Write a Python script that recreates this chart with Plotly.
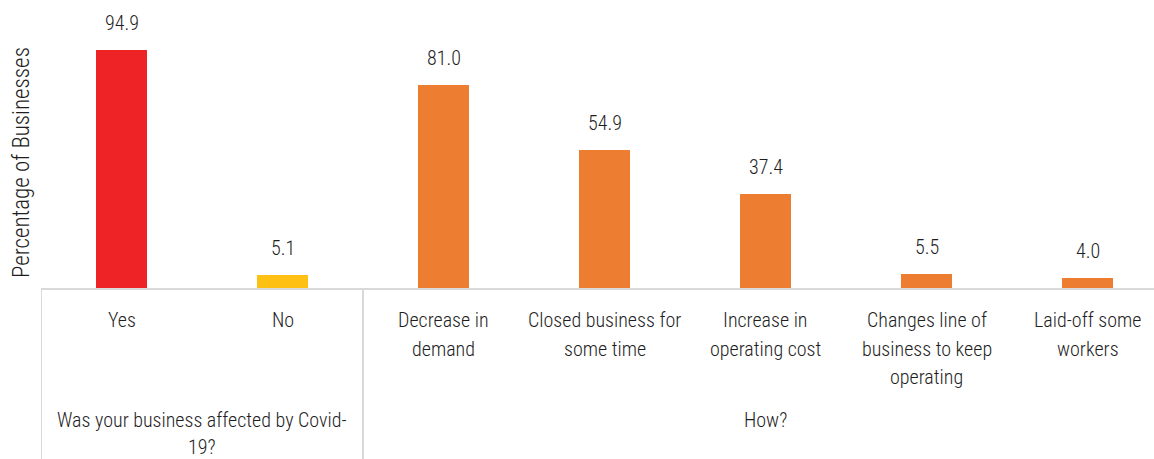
import plotly.graph_objects as go

# Survey results: share of businesses (%)
categories = ["Yes", "No", "Decrease in<br>demand", "Closed business for<br>some time",
              "Increase in<br>operating cost", "Changes line of<br>business to keep<br>operating",
              "Laid-off some<br>workers"]
values = [94.9, 5.1, 81.0, 54.9, 37.4, 5.5, 4.0]
value_labels = ["94.9", "5.1", "81.0", "54.9", "37.4", "5.5", "4.0"]
bar_colors = ["#EE2326", "#FFC014", "#ED7D31", "#ED7D31", "#ED7D31", "#ED7D31", "#ED7D31"]

groups = ["Was your business affected by Covid-<br>19?", "How?"]
group_spans = [(0, 1), (2, 6)]
y_title = "Percentage of Businesses"

FONT = "Roboto Condensed, Liberation Sans Narrow, DejaVu Sans Condensed, sans-serif"
TXT = "#1e1e1e"
GRID = "#d9d9d9"
LINE_H = 28.5   # spacing between wrapped category label lines, px
GROUP_LINE_H = 26.5

x = list(range(len(categories)))

fig = go.Figure()
fig.add_trace(go.Bar(
    x=x, y=values, marker=dict(color=bar_colors, line=dict(width=0)),
    width=0.317, hoverinfo="skip",
))

def label_font(size=20):
    return dict(family=FONT, size=size, color=TXT, weight=300)

# value labels above the bars
for i, (v, t) in enumerate(zip(values, value_labels)):
    fig.add_annotation(x=i, y=v, xref="x", yref="y", text=t, showarrow=False,
                       yanchor="middle", yshift=27, font=label_font())

# category labels under the axis, one annotation per line
for i, lab in enumerate(categories):
    for k, line in enumerate(lab.split("<br>")):
        fig.add_annotation(x=i, y=0, xref="x", yref="y", text=line, showarrow=False,
                           yanchor="middle", yshift=-32 - k * LINE_H,
                           font=label_font())

# group labels and separators
for g, (a, b) in zip(groups, group_spans):
    for k, line in enumerate(g.split("<br>")):
        fig.add_annotation(x=(a + b) / 2, y=0, xref="x", yref="y", text=line,
                           showarrow=False, yanchor="middle",
                           yshift=-132 - k * GROUP_LINE_H, font=label_font())

for sep in [-0.5, 1.5]:
    fig.add_shape(type="line", xref="x", yref="paper", x0=sep, x1=sep, y0=0, y1=-0.62,
                  line=dict(color=GRID, width=2))

# vertical axis title
fig.add_annotation(x=0, y=0.434, xref="paper", yref="paper", text=y_title,
                   showarrow=False, textangle=-90, xanchor="center", yanchor="middle",
                   xshift=-20, font=label_font(23))

fig.update_layout(
    width=1154, height=459,
    margin=dict(l=41, r=0, t=0, b=171),
    paper_bgcolor="white", plot_bgcolor="white",
    showlegend=False, bargap=0,
    xaxis=dict(range=[-0.5, 6.413], showticklabels=False, showgrid=False, zeroline=False,
               showline=True, linecolor=GRID, linewidth=2, ticks=""),
    yaxis=dict(range=[0, 114.8], showticklabels=False, showgrid=False, zeroline=False,
               showline=False, ticks=""),
)

fig.write_html("out.html")
